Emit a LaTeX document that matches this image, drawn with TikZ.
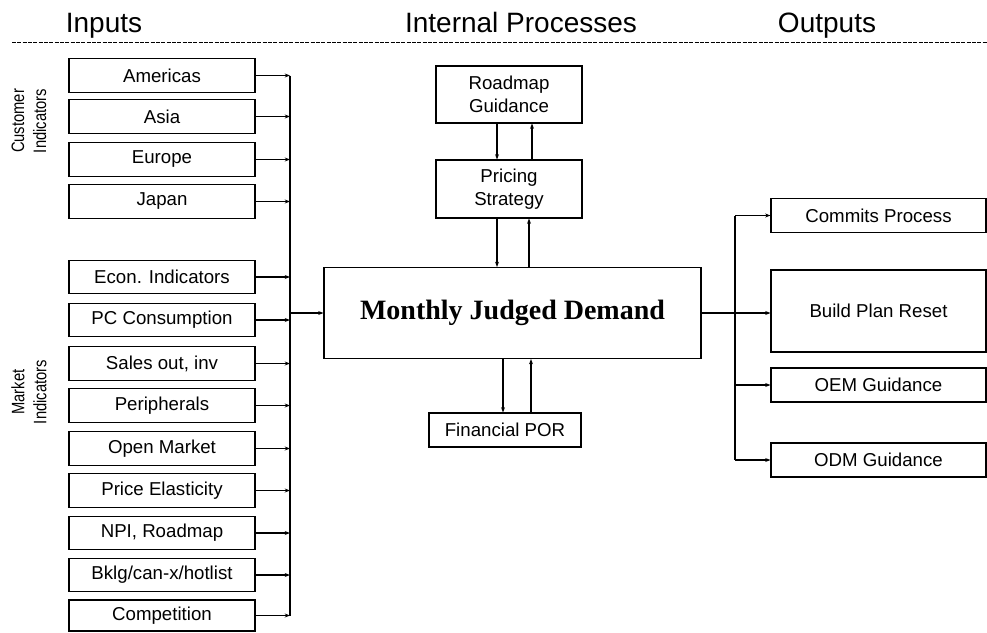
\documentclass[tikz,border=0pt]{standalone}
\usepackage{fontspec}
\setmainfont{Liberation Sans}
\newfontfamily\serifbold{Liberation Serif}[BoldFont={* Bold}]
\usetikzlibrary{arrows.meta}
\begin{document}
\begin{tikzpicture}[x=0.75pt,y=-0.75pt,
  line width=0.8pt,
  arr/.style={-{Stealth[length=4pt,width=3pt]}},
  inbox/.style={draw,rectangle,inner sep=0pt,minimum width=139.5pt,minimum height=25pt,font=\fontsize{14}{15}\selectfont},
  outbox/.style={draw,rectangle,inner sep=0pt,minimum width=161.25pt,minimum height=25.5pt,font=\fontsize{14}{15}\selectfont},
  procbox/.style={draw,rectangle,inner sep=0pt,minimum width=109.5pt,align=center,font=\fontsize{14}{17}\selectfont},
  header/.style={anchor=base,font=\fontsize{21}{24}\selectfont},
  sidelabel/.style={rotate=90,align=center,font=\fontsize{13.5}{16.5}\selectfont}]
\useasboundingbox (0,0) rectangle (987,632);
\fill[white] (0,0) rectangle (987,632);

% column headings and rule
\node[header] (hin)  at (104,32) {Inputs};
\node[header] (hint) at (521,32) {Internal Processes};
\node[header] (hout) at (827,32) {Outputs};
\coordinate (ruleL) at (12,42);
\coordinate (ruleR) at (987,42);
\draw[line width=0.6pt,dash pattern=on 3pt off 1pt] (ruleL) -- (ruleR);

% group labels
\node[sidelabel] (custlbl) at (29,121) {\scalebox{0.82}[1]{Customer}\\\scalebox{0.82}[1]{Indicators}};
\node[sidelabel] (mktlbl)  at (29,392) {\scalebox{0.82}[1]{Market}\\\scalebox{0.82}[1]{Indicators}};

% input boxes
\node[inbox] (am)  at (162,75.5)  {Americas};
\node[inbox] (as)  at (162,116.5) {Asia};
\node[inbox] (eu)  at (162,159.5) {Europe};
\node[inbox] (jp)  at (162,201.5) {Japan};
\node[inbox] (ec)  at (162,277)   {Econ. Indicators};
\node[inbox] (pc)  at (162,320)   {PC Consumption};
\node[inbox] (so)  at (162,363.5) {Sales out, inv};
\node[inbox] (pe)  at (162,405.5) {Peripherals};
\node[inbox] (om)  at (162,448.5) {Open Market};
\node[inbox] (pr)  at (162,490.5) {Price Elasticity};
\node[inbox] (np)  at (162,533)   {NPI, Roadmap};
\node[inbox] (bk)  at (162,575)   {Bklg/can-x/hotlist};
\node[inbox,minimum height=23.25pt] (co) at (162,615.5) {Competition};

% central process
\node[draw,rectangle,inner sep=0pt,minimum width=282.75pt,minimum height=68.25pt,
      font=\serifbold\bfseries\fontsize{21}{24}\selectfont] (mjd) at (512.5,313) {Monthly Judged Demand};
\node[procbox,minimum height=42.75pt] (rg) at (509,94.5) {Roadmap\\Guidance};
\node[procbox,minimum height=43.5pt]  (ps) at (509,189)  {Pricing\\Strategy};
\node[procbox,minimum width=114pt,minimum height=25.5pt] (fp) at (505,430) {Financial POR};

% output boxes
\node[outbox] (cp)  at (878.5,215.5) {Commits Process};
\node[outbox,minimum height=61.5pt] (bp) at (878.5,311) {Build Plan Reset};
\node[outbox] (oem) at (878.5,385) {OEM Guidance};
\node[outbox] (odm) at (878.5,460) {ODM Guidance};

% input bus
\coordinate (busTop) at (290,75.5);
\coordinate (busBot) at (290,615.5);
\draw (busTop) -- (busBot);
\foreach \n in {am,as,eu,jp,ec,pc,so,pe,om,pr,np,bk,co}
  \draw[arr] (\n.east) -- (\n.east -| busTop);
\draw[arr] (mjd.west -| busTop) -- (mjd.west);

% links between the process boxes
\coordinate (xa) at (497,0);
\coordinate (xb) at (532,0);
\coordinate (xc) at (529,0);
\coordinate (xd) at (503,0);
\coordinate (xe) at (531,0);
\draw[arr] (rg.south -| xa) -- (ps.north -| xa);
\draw[arr] (ps.north -| xb) -- (rg.south -| xb);
\draw[arr] (ps.south -| xa) -- (mjd.north -| xa);
\draw[arr] (mjd.north -| xc) -- (ps.south -| xc);
\draw[arr] (mjd.south -| xd) -- (fp.north -| xd);
\draw[arr] (fp.north -| xe) -- (mjd.south -| xe);

% output bus
\coordinate (obTop) at (735,215.5);
\coordinate (obBot) at (735,460);
\draw (mjd.east) -- (mjd.east -| obTop);
\draw (obTop) -- (obBot);
\draw[arr] (cp.west -| obTop) -- (cp.west);
\draw[arr] (mjd.east -| obTop) -- (mjd.east -| bp.west);
\draw[arr] (oem.west -| obTop) -- (oem.west);
\draw[arr] (odm.west -| obTop) -- (odm.west);
\end{tikzpicture}
\end{document}
